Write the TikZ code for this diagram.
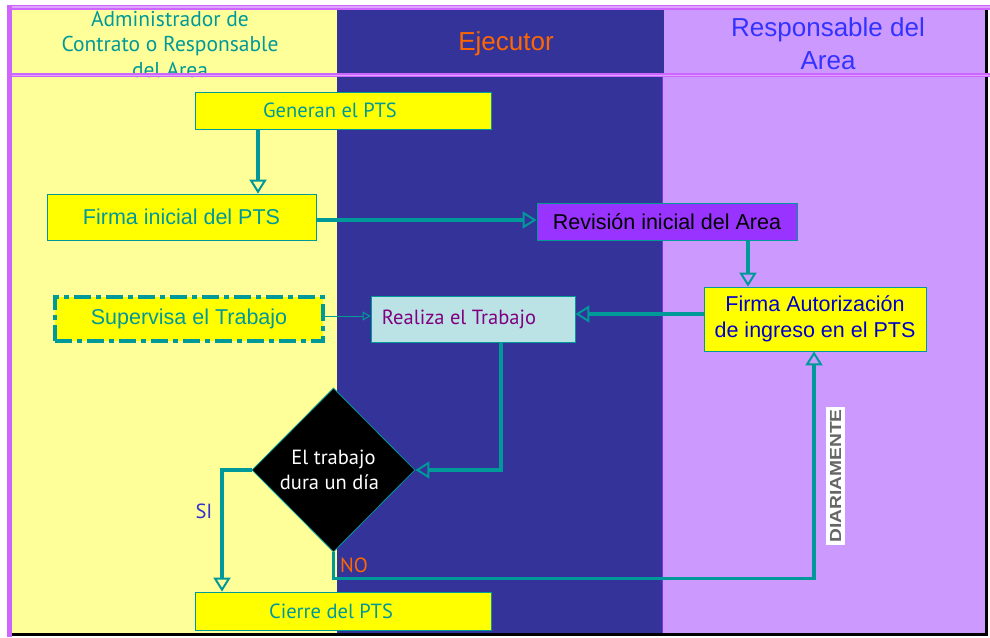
\documentclass[tikz,border=0pt]{standalone}
\usepackage{fontspec}
\setmainfont{Liberation Sans}
\newfontfamily\myr{PT Sans}
\usetikzlibrary{arrows.meta,shapes.geometric}
\definecolor{lyellow}{HTML}{FFFF99}
\definecolor{dblue}{HTML}{333399}
\definecolor{lav}{HTML}{CC99FF}
\definecolor{pline}{HTML}{CC66FF}
\definecolor{tealc}{HTML}{009999}
\definecolor{boxy}{HTML}{FFFF00}
\definecolor{revc}{HTML}{9933FF}
\definecolor{cyanl}{HTML}{BBE3E6}
\definecolor{purp}{HTML}{800080}
\definecolor{orng}{HTML}{FF6600}
\definecolor{blhead}{HTML}{3333FF}
\definecolor{fab}{HTML}{0000CC}
\definecolor{sic}{HTML}{3333CC}
\tikzset{
  box/.style={draw=tealc, line width=0.8pt, fill=boxy, inner sep=0pt, anchor=center},
  conn/.style={draw=tealc, line width=3.2pt, -{Triangle[open, width=17pt, length=14pt, line width=2pt]}},
  thinconn/.style={draw=tealc, line width=1pt, -{Triangle[open, width=9pt, length=8pt, line width=1pt]}},
  hdr/.style={align=center, inner sep=0pt},
  myrtext/.style={font=\myr\fontsize{20.5}{24}\selectfont},
}
\begin{document}
\begin{tikzpicture}[x=1pt,y=-1pt]
\useasboundingbox (0,0) rectangle (990,637);
\fill[white] (0,0) rectangle (990,637);
% lanes
\fill[lyellow] (12,8) rectangle (337,633);
\fill[dblue] (337,8) rectangle (662,633);
\fill[dblue] (337,8) rectangle (664,77);
\fill[lav] (662,77) rectangle (985,633);
\fill[lav] (664,8) rectangle (985,77);
\draw[revc!70!dblue, line width=0.6pt] (662,77) -- (662,633);
% borders
\draw[black, line width=3pt] (986.5,8) -- (986.5,635);
\draw[black, line width=3pt] (12,634.5) -- (988,634.5);
\draw[pline, line width=5pt] (7,7) -- (990,7);
\draw[pline!60!white, line width=1.2pt] (7,7) -- (990,7);
\draw[pline, line width=5pt] (9.5,5) -- (9.5,637);
% header texts
\node[hdr, text=tealc, font=\myr\fontsize{21.5}{25.5}\selectfont] (h1) at (170,44) {Administrador de\\Contrato o Responsable\\del Area};
\node[hdr, text=orng, font=\fontsize{26}{30}\selectfont] (h2) at (506,44) {Ejecutor};
\node[hdr, text=blhead, font=\fontsize{26}{33}\selectfont] (h3) at (828,44) {Responsable del\\Area};
% header separator over the clipped line
\draw[pline, line width=4pt] (12,75) -- (990,75);
\draw[pline!60!white, line width=1pt] (12,75) -- (990,75);
% nodes
\node[box, minimum width=296pt, minimum height=37pt, text=tealc, myrtext] (gen) at (343,110.5) {Generan el PTS\hspace*{26pt}};
\node[box, minimum width=269pt, minimum height=46pt, text=tealc, font=\fontsize{21.5}{26}\selectfont] (fi) at (181.5,217) {Firma inicial del PTS};
\node[box, fill=revc, minimum width=260pt, minimum height=37pt, text=black, font=\fontsize{21.5}{26}\selectfont] (rev) at (667,221.5) {Revisión inicial del Area};
\node[box, draw=tealc, line width=4.5pt, dash pattern=on 17pt off 5pt on 5pt off 5pt, minimum width=268pt, minimum height=44pt, text=tealc, font=\fontsize{21.5}{26}\selectfont] (sup) at (189,319) {Supervisa el Trabajo};
\node[box, fill=cyanl, minimum width=204pt, minimum height=46pt, text=purp, myrtext] (real) at (473,319) {Realiza el Trabajo\hspace*{28pt}};
\node[box, align=center, minimum width=222pt, minimum height=64pt, text=fab, font=\fontsize{21.5}{26}\selectfont] (fa) at (815,319) {Firma Autorización\\de ingreso en el PTS};
\node[diamond, draw=tealc, line width=0.8pt, fill=black, aspect=1, minimum width=163pt, minimum height=164pt, inner sep=0pt, align=center, text=white, font=\myr\fontsize{20.5}{25}\selectfont] (dec) at (333.5,470) {El trabajo\\dura un día\hspace*{8pt}};
\node[box, minimum width=296pt, minimum height=38pt, text=tealc, myrtext] (cie) at (343,611) {Cierre del PTS\hspace*{24pt}};
\node[fill=white, rotate=90, minimum width=138pt, minimum height=19pt, inner sep=0pt, text=black!60, font=\bfseries\fontsize{16}{18}\selectfont] (dia) at (835.5,476) {\scalebox{1.2}[1]{DIARIAMENTE}};
% connectors
\draw[conn] (gen.south -| 258,0) -- (fi.north -| 258,0);
\draw[conn] (fi.east |- 0,220) -- (rev.west |- 0,220);
\draw[conn] (rev.south -| 748,0) -- (fa.north -| 748,0);
\draw[conn] (fa.west |- 0,314) -- (real.east |- 0,314);
\draw[thinconn] (sup.east |- 0,316) -- (real.west |- 0,316);
\draw[conn] (real.south -| 501,0) |- (dec.east);
\draw[conn] (dec.west) -| (cie.north -| 222,0);
\draw[conn] (dec.south) |- (814,578.5) -- (fa.south -| 814,0);
\node[text=sic, myrtext, inner sep=0pt] (si) at (204,511) {SI};
\node[text=orng, myrtext, inner sep=0pt] (no) at (354,565) {NO};
\end{tikzpicture}
\end{document}
